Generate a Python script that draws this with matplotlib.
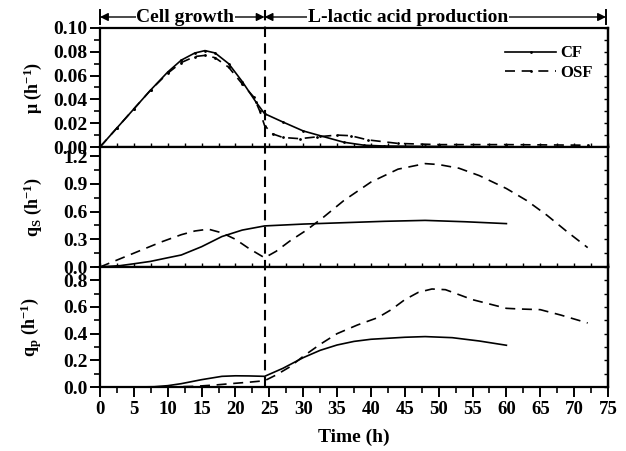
import matplotlib as mpl
mpl.use('Agg')
import matplotlib.pyplot as plt
from matplotlib.lines import Line2D
from matplotlib.ticker import MultipleLocator, FormatStrFormatter
import matplotlib.transforms as mtransforms

plt.rcParams['font.family'] = ['Liberation Serif', 'DejaVu Serif']
plt.rcParams['font.weight'] = 'bold'
plt.rcParams['mathtext.fontset'] = 'custom'
plt.rcParams['mathtext.rm'] = 'Liberation Serif:bold'
plt.rcParams['mathtext.it'] = 'Liberation Serif:bold'
plt.rcParams['mathtext.bf'] = 'Liberation Serif:bold'

# specific growth rate mu (h-1)
t_mu_cf = [0, 2.5, 5, 7.5, 10, 12, 14, 15.5, 17, 19, 21, 23, 24.3, 27, 30, 32.5, 36, 39, 42, 48, 54, 60]
mu_cf = [0, 0.016, 0.032, 0.048, 0.063, 0.073, 0.079, 0.081, 0.079, 0.070, 0.055, 0.038, 0.028,
         0.021, 0.0135, 0.0095, 0.004, 0.0015, 0.0008, 0.0005, 0.0003, 0.0002]
t_mu_osf = [0, 2.5, 5, 7.5, 10, 12, 14, 15.5, 17, 19, 21, 22.7, 23.6, 24.3, 25.5, 27, 29.5, 32, 35,
            37, 39.5, 44, 50, 60, 72]
mu_osf = [0, 0.016, 0.032, 0.048, 0.062, 0.071, 0.076, 0.077, 0.075, 0.067, 0.053, 0.042, 0.030,
          0.018, 0.011, 0.008, 0.007, 0.0085, 0.010, 0.0095, 0.006, 0.003, 0.002, 0.002, 0.0015]

# specific substrate consumption rate qS (h-1)
t_qs_cf = [0, 3, 5, 7.4, 10, 12, 15, 18, 21, 24.3, 30, 36, 42, 48, 54, 60]
qs_cf = [0, 0.015, 0.035, 0.06, 0.10, 0.13, 0.22, 0.33, 0.40, 0.445, 0.465, 0.48, 0.495, 0.505, 0.49, 0.47]
t_qs_osf = [0, 3, 6, 9, 12, 14, 16, 18, 20, 22, 24.3, 26, 28, 30.5, 33, 36, 40, 44, 48, 50, 53, 56,
            60, 63, 66, 69, 72]
qs_osf = [0, 0.09, 0.18, 0.27, 0.35, 0.39, 0.41, 0.37, 0.30, 0.20, 0.10, 0.17, 0.28, 0.40, 0.54,
          0.72, 0.92, 1.06, 1.12, 1.11, 1.07, 0.99, 0.85, 0.72, 0.56, 0.38, 0.21]

# specific product formation rate qp (h-1)
t_qp_cf = [0, 5, 8, 10, 12, 15, 18, 20, 22, 24.3, 27, 30, 32.5, 35, 37.5, 40, 45, 48, 52, 56, 60]
qp_cf = [0, 0, 0.002, 0.01, 0.025, 0.055, 0.08, 0.084, 0.083, 0.08, 0.14, 0.22, 0.275, 0.315, 0.342,
         0.358, 0.373, 0.378, 0.37, 0.345, 0.313]
t_qp_osf = [0, 10, 14, 17, 20, 22, 24.3, 26, 28, 30, 32.5, 35, 38, 41, 43, 45, 47, 49, 51, 55, 60,
            62, 65, 68, 72]
qp_osf = [0, 0, 0.005, 0.015, 0.028, 0.036, 0.047, 0.09, 0.15, 0.23, 0.32, 0.40, 0.465, 0.52, 0.58,
          0.655, 0.71, 0.735, 0.73, 0.655, 0.59, 0.585, 0.58, 0.54, 0.48]

t_switch = 24.3
W, H = 626.0, 451.0
fig = plt.figure(figsize=(6.26, 4.51), dpi=100)

left, right = 100/W, 608/W
panels = [(28, 147), (147, 267), (267, 387)]
axes = []
for top, bot in panels:
    ax = fig.add_axes([left, 1-bot/H, right-left, (bot-top)/H])
    axes.append(ax)
ax1, ax2, ax3 = axes

dash = (0, (6, 4))
ax1.plot(t_mu_cf, mu_cf, color='black', lw=1.2, marker='.', ms=2, label='CF')
ax1.plot(t_mu_osf, mu_osf, color='black', lw=1.2, ls=dash, marker='.', ms=2, label='OSF')
ax2.plot(t_qs_cf, qs_cf, color='black', lw=1.2)
ax2.plot(t_qs_osf, qs_osf, color='black', lw=1.2, ls=dash)
ax3.plot(t_qp_cf, qp_cf, color='black', lw=1.2)
ax3.plot(t_qp_osf, qp_osf, color='black', lw=1.2, ls=dash)

ax1.set_ylim(0, 0.1)
ax1.yaxis.set_major_locator(MultipleLocator(0.02))
ax1.yaxis.set_minor_locator(MultipleLocator(0.01))
ax2.set_ylim(0, 1.3)
ax2.yaxis.set_major_locator(MultipleLocator(0.3))
ax2.yaxis.set_minor_locator(MultipleLocator(0.15))
ax3.set_ylim(0, 0.9)
ax3.yaxis.set_major_locator(MultipleLocator(0.2))
ax3.yaxis.set_minor_locator(MultipleLocator(0.1))

ax1.yaxis.set_major_formatter(FormatStrFormatter('%.2f'))
ax2.yaxis.set_major_formatter(FormatStrFormatter('%.1f'))
ax3.yaxis.set_major_formatter(FormatStrFormatter('%.1f'))

for i, ax in enumerate(axes):
    ax.set_xlim(0, 75)
    ax.xaxis.set_major_locator(MultipleLocator(5))
    ax.xaxis.set_minor_locator(MultipleLocator(2.5))
    for s in ax.spines.values():
        s.set_linewidth(1.6)
    ax.tick_params(axis='y', which='major', direction='out', length=7, width=1.4,
                   labelsize=14, pad=2, right=False)
    ax.tick_params(axis='y', which='minor', direction='out', length=4, width=1.2, right=False)
    if i < 2:
        ax.tick_params(axis='x', which='both', direction='in', length=3, width=1.0,
                       labelbottom=False)
    else:
        ax.tick_params(axis='x', which='major', direction='out', length=7, width=1.4,
                       labelsize=13.5, pad=3)
        ax.tick_params(axis='x', which='minor', direction='out', length=4, width=1.2)
    # inward ticks on the right spine
    sec = ax.secondary_yaxis('right')
    sec.yaxis.set_major_locator(ax.yaxis.get_major_locator())
    sec.yaxis.set_minor_locator(ax.yaxis.get_minor_locator())
    sec.tick_params(which='both', direction='in', length=3, width=1.0, labelright=False)
    sec.spines['right'].set_linewidth(1.6)

ax1.set_ylabel('\u03bc (h$^{-1}$)', fontsize=13, fontweight='bold')
ax2.set_ylabel(r'q$_S$ (h$^{-1}$)', fontsize=13, fontweight='bold')
ax3.set_ylabel(r'q$_p$ (h$^{-1}$)', fontsize=13, fontweight='bold')
for ax in axes:
    ax.yaxis.set_label_coords(-0.11, 0.5)
ax3.set_xlabel('Time (h)', fontsize=14, fontweight='bold', labelpad=8)

ax1.legend(loc='upper right', frameon=False, fontsize=12, handlelength=3.0,
           handletextpad=0.3, labelspacing=0.2, bbox_to_anchor=(1.0, 0.98))

# phase separator and phase arrows
tr = mtransforms.blended_transform_factory(ax3.transData, fig.transFigure)
fig.add_artist(Line2D([t_switch, t_switch], [1-387/H, 1-10/H], transform=tr, color='black',
                      lw=1.5, ls=(0, (5, 3))))
y_arr = 1-17/H
for x in [0, 74.7]:
    fig.add_artist(Line2D([x, x], [1-10/H, 1-24/H], transform=tr, color='black', lw=1.4))
arrow = dict(arrowstyle='<|-|>', color='black', lw=1.0, mutation_scale=12, shrinkA=0, shrinkB=0)
fig.patches.append(mpl.patches.FancyArrowPatch((0, y_arr), (t_switch, y_arr), transform=tr,
                                               **arrow))
fig.patches.append(mpl.patches.FancyArrowPatch((t_switch, y_arr), (74.7, y_arr), transform=tr,
                                               **arrow))
bb = dict(facecolor='white', edgecolor='none', pad=0.5)
fig.text(12.6, y_arr, 'Cell growth', transform=tr, ha='center', va='center', fontsize=14,
         fontweight='bold', bbox=bb)
fig.text(45.5, y_arr, 'L-lactic acid production', transform=tr, ha='center', va='center',
         fontsize=14, fontweight='bold', bbox=bb)

fig.savefig('out.png', dpi=100)
